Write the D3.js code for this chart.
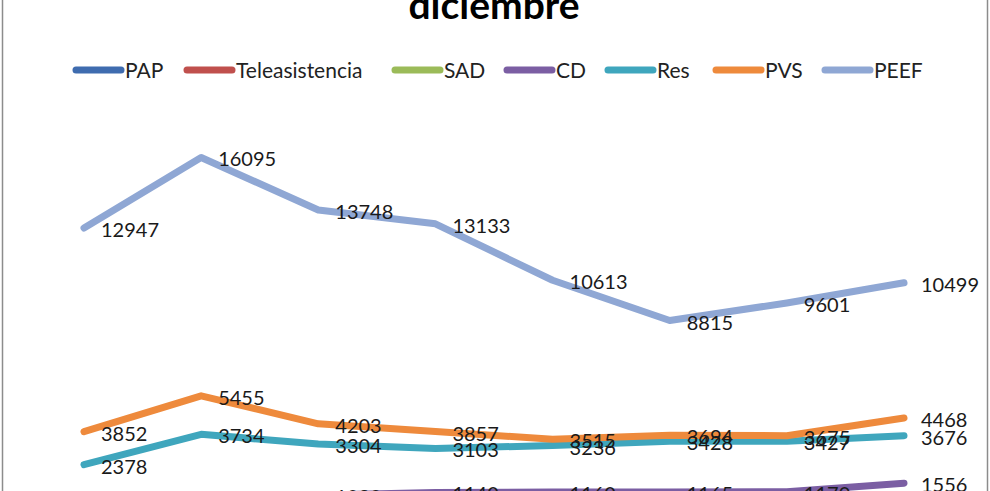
<!DOCTYPE html>
<html>
<head>
<meta charset="utf-8">
<script src="https://cdn.jsdelivr.net/npm/d3@7"></script>
<style>
  html, body { margin: 0; padding: 0; background: #fff; }
  svg { display: block; }
</style>
</head>
<body>
<svg id="chart" width="990" height="491"></svg>
<script>
// ---- data (lower series are estimates, cropped out of view) ----
const categories = ["2012", "2013", "2014", "2015", "2016", "2017", "2018", "2019"];
const seriesNames = ["PAP", "Teleasistencia", "SAD", "CD", "Res", "PVS", "PEEF"];
const PAP            = [120, 130, 140, 150, 160, 170, 180, 190];
const Teleasistencia = [400, 420, 430, 440, 450, 460, 470, 480];
const SAD            = [700, 720, 730, 740, 750, 760, 770, 780];
const CD             = [950, 1000, 1020, 1140, 1160, 1165, 1170, 1556];
const Res            = [2378, 3734, 3304, 3103, 3236, 3428, 3427, 3676];
const PVS            = [3852, 5455, 4203, 3857, 3515, 3694, 3675, 4468];
const PEEF           = [12947, 16095, 13748, 13133, 10613, 8815, 9601, 10499];
const title = "diciembre";
const colors = ["#3F6CAF", "#C0504D", "#9BBB59", "#7B5EA3", "#3FA6BD", "#EE8A3C", "#8FA7D4"];

const seriesValues = [PAP, Teleasistencia, SAD, CD, Res, PVS, PEEF];
const series = seriesNames.map((n, i) => ({ name: n, values: seriesValues[i], color: colors[i] }));

const svg = d3.select("#chart");
const W = 990, H = 491;

// chart border
svg.append("rect")
  .attr("x", 2.5).attr("y", -10).attr("width", 985).attr("height", 530)
  .attr("fill", "#fff").attr("stroke", "#8c8c8c").attr("stroke-width", 1.5);

// title (cropped at the top as in the reference)
svg.append("text")
  .attr("x", 494).attr("y", 19)
  .attr("text-anchor", "middle")
  .attr("font-family", "Lato, 'Open Sans', sans-serif")
  .attr("font-weight", "bold")
  .attr("font-size", 39)
  .attr("fill", "#000")
  .text(title);

// legend
const legendX = [73, 184, 392, 504, 605, 713, 822];
const lg = svg.append("g");
series.forEach((s, i) => {
  const g = lg.append("g").attr("transform", `translate(${legendX[i]},70)`);
  g.append("line").attr("x1", 3).attr("x2", 48).attr("y1", 0).attr("y2", 0)
    .attr("stroke", s.color).attr("stroke-width", 7).attr("stroke-linecap", "round");
  g.append("text").attr("x", 52).attr("y", 7.5)
    .attr("font-family", "Lato, sans-serif").attr("font-size", 21).attr("fill", "#222")
    .text(s.name);
});

// scales
const x = d3.scalePoint().domain(categories).range([84, 904]);
const y = d3.scaleLinear().domain([0, 18000]).range([518, 114.8]);

// x axis (sits at zero, below the cropped view)
svg.append("g").attr("transform", `translate(0,${y(0)})`)
  .call(d3.axisBottom(x).tickSize(0))
  .call(g => g.select(".domain").attr("stroke", "#888"));

const line = d3.line().x((d, i) => x(categories[i])).y(d => y(d));

const plot = svg.append("g");
series.forEach(s => {
  plot.append("path")
    .attr("d", line(s.values))
    .attr("fill", "none")
    .attr("stroke", s.color)
    .attr("stroke-width", 7)
    .attr("stroke-linecap", "round")
    .attr("stroke-linejoin", "round");
});

// data labels (right of each point)
const labels = svg.append("g")
  .attr("font-family", "Lato, sans-serif").attr("font-size", 20).attr("fill", "#1a1a1a");
series.forEach(s => {
  s.values.forEach((v, i) => {
    labels.append("text")
      .attr("x", x(categories[i]) + 17)
      .attr("y", y(v) + 9)
      .text(v);
  });
});
</script>
</body>
</html>
